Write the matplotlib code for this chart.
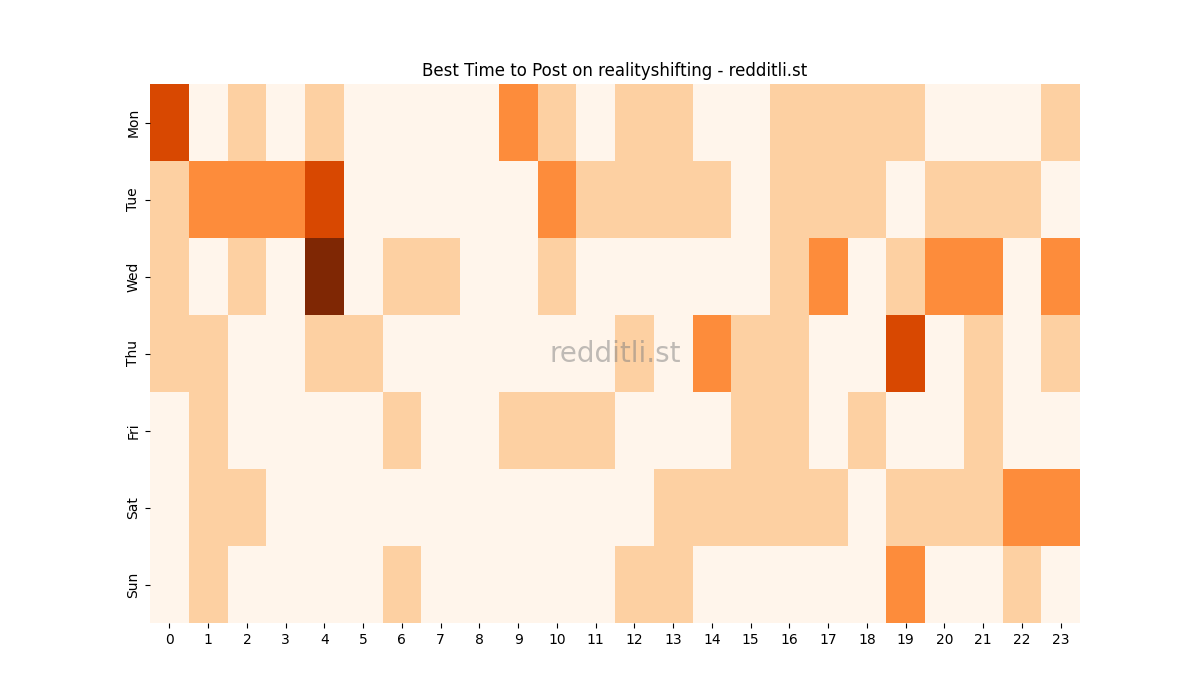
import matplotlib
matplotlib.use("Agg")
import matplotlib.pyplot as plt
import seaborn as sns
import numpy as np

days = ["Mon", "Tue", "Wed", "Thu", "Fri", "Sat", "Sun"]
hours = [str(h) for h in range(24)]
mon = [3,0,1,0,1,0,0,0,0,2,1,0,1,1,0,0,1,1,1,1,0,0,0,1]
tue = [1,2,2,2,3,0,0,0,0,0,2,1,1,1,1,0,1,1,1,0,1,1,1,0]
wed = [1,0,1,0,4,0,1,1,0,0,1,0,0,0,0,0,1,2,0,1,2,2,0,2]
thu = [1,1,0,0,1,1,0,0,0,0,0,0,1,0,2,1,1,0,0,3,0,1,0,1]
fri = [0,1,0,0,0,0,1,0,0,1,1,1,0,0,0,1,1,0,1,0,0,1,0,0]
sat = [0,1,1,0,0,0,0,0,0,0,0,0,0,1,1,1,1,1,0,1,1,1,2,2]
sun = [0,1,0,0,0,0,1,0,0,0,0,0,1,1,0,0,0,0,0,2,0,0,1,0]
data = np.array([mon, tue, wed, thu, fri, sat, sun])

fig, ax = plt.subplots(figsize=(12, 7), dpi=100)
sns.heatmap(data, cmap="Oranges", vmin=0, vmax=4, cbar=False,
            xticklabels=hours, yticklabels=days, ax=ax)
ax.set_title("Best Time to Post on realityshifting - redditli.st")
ax.text(0.5, 0.5, "redditli.st", transform=ax.transAxes, ha="center",
        va="center", fontsize=20, color="gray", alpha=0.5)
fig.savefig("out.png")
